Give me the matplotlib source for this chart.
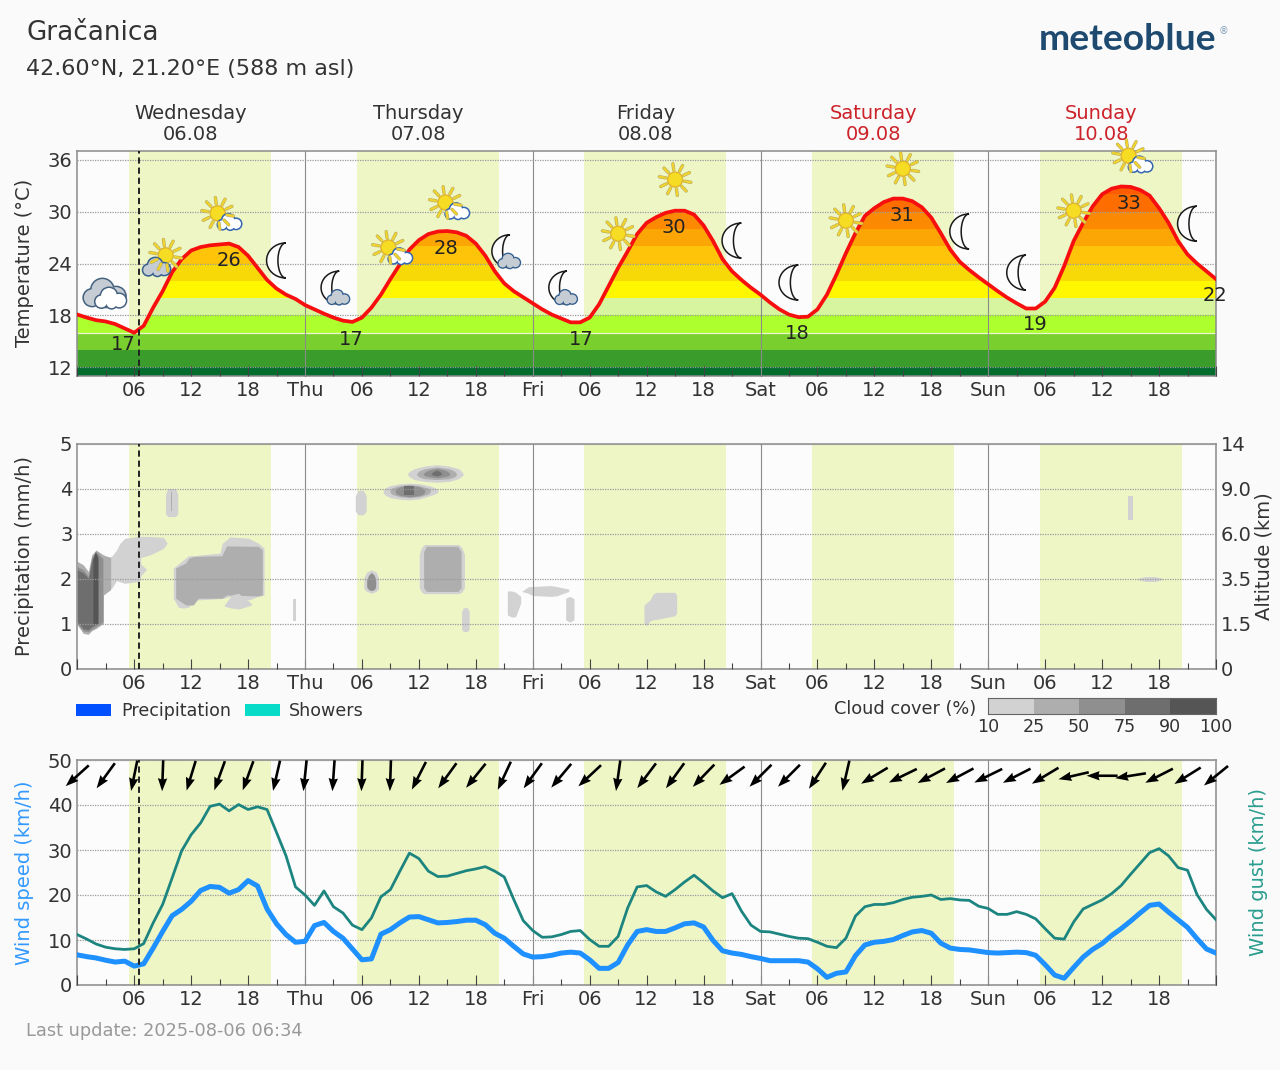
import numpy as np
import matplotlib
matplotlib.use('Agg')
import matplotlib.pyplot as plt
from matplotlib.patches import Circle, Polygon, Rectangle
from matplotlib.ticker import MultipleLocator

# hourly forecast, 0 = Wednesday 00:00
hours = np.arange(121)
temperature = [18.1, 17.75, 17.45, 17.3, 17.0, 16.5, 16.0, 16.8, 18.9, 20.8, 23.0, 24.5, 25.5, 25.9, 26.1, 26.2, 26.3, 25.9, 24.9, 23.5,
               22.1, 21.1, 20.4, 19.9, 19.2, 18.7, 18.2, 17.75, 17.4, 17.25, 17.75, 18.9, 20.4, 22.2, 23.9, 25.6, 26.7, 27.4, 27.7, 27.75,
               27.6, 27.2, 26.3, 24.9, 23.1, 21.7, 20.8, 20.1, 19.4, 18.7, 18.1, 17.65, 17.2, 17.2, 17.75, 19.3, 21.4, 23.5, 25.4, 27.4,
               28.7, 29.35, 29.85, 30.1, 30.1, 29.65, 28.4, 26.6, 24.5, 23.1, 22.1, 21.2, 20.4, 19.5, 18.7, 18.1, 17.8, 17.85, 18.7, 20.4,
               22.7, 25.2, 27.5, 29.5, 30.4, 31.1, 31.5, 31.5, 31.2, 30.5, 29.3, 27.5, 25.6, 24.2, 23.25, 22.4, 21.6, 20.8, 20.05, 19.4,
               18.8, 18.8, 19.6, 21.2, 23.7, 26.6, 28.7, 30.6, 32.0, 32.65, 32.9, 32.85, 32.5, 31.85, 30.4, 28.7, 26.6, 25.05, 24.0, 23.1, 22.2]
wind_speed = [6.7, 6.3, 6.0, 5.5, 5.1, 5.3, 4.2, 4.7, 8.2, 11.9, 15.4, 16.8, 18.6, 21.0, 21.9, 21.7, 20.4, 21.2, 23.2, 22.0,
              16.9, 13.6, 11.2, 9.5, 9.7, 13.2, 13.9, 11.9, 10.4, 8.0, 5.6, 5.8, 11.3, 12.3, 13.8, 15.1, 15.2, 14.5, 13.8, 13.9,
              14.1, 14.4, 14.4, 13.4, 11.5, 10.4, 8.6, 6.9, 6.2, 6.3, 6.6, 7.1, 7.3, 7.1, 5.6, 3.7, 3.7, 5.0, 8.9, 11.9,
              12.3, 11.9, 11.9, 12.7, 13.6, 13.8, 12.9, 9.9, 7.6, 7.1, 6.8, 6.3, 5.9, 5.4, 5.4, 5.4, 5.4, 5.1, 3.6, 1.7,
              2.6, 2.9, 6.5, 8.9, 9.5, 9.7, 10.1, 11.0, 11.8, 12.1, 11.5, 9.3, 8.2, 7.9, 7.8, 7.5, 7.2, 7.1, 7.2, 7.3,
              7.2, 6.6, 4.5, 2.2, 1.5, 3.9, 6.2, 7.9, 9.2, 11.0, 12.5, 14.2, 16.0, 17.7, 18.0, 16.2, 14.5, 12.8, 10.3, 8.0, 7.1]
wind_gust = [11.2, 10.2, 9.1, 8.4, 8.05, 7.9, 8.05, 9.2, 13.8, 17.9, 23.8, 29.8, 33.4, 36.0, 39.7, 40.2, 38.7, 40.1, 39.0, 39.6,
             39.0, 33.9, 28.7, 21.8, 20.0, 17.7, 20.9, 17.4, 16.0, 13.3, 12.3, 14.9, 19.6, 21.2, 25.3, 29.3, 28.1, 25.3, 24.1, 24.2,
             24.8, 25.4, 25.8, 26.3, 25.3, 24.0, 19.0, 14.3, 12.1, 10.6, 10.7, 11.2, 11.9, 12.1, 10.1, 8.6, 8.6, 10.8, 17.1, 21.8,
             22.1, 20.7, 19.7, 21.2, 22.9, 24.4, 22.7, 20.9, 19.4, 20.3, 16.4, 13.3, 11.9, 11.8, 11.3, 10.8, 10.4, 10.3, 9.5, 8.6,
             8.3, 10.4, 15.3, 17.4, 17.9, 17.9, 18.3, 19.0, 19.5, 19.7, 20.0, 19.0, 19.2, 18.9, 18.8, 17.5, 17.0, 15.7, 15.7, 16.3,
             15.7, 14.7, 12.5, 10.4, 10.2, 14.0, 16.9, 17.9, 18.9, 20.3, 22.1, 24.6, 27.0, 29.4, 30.3, 28.7, 26.1, 25.5, 20.1, 16.8, 14.5]

# wind direction every 3 hours, degrees the arrow leans west of straight down
arrow_hours = np.arange(0, 121, 3)
arrow_dirs = [48, 36, 11.5, 2, 17, 20, 20, 13, 6, 4, 2, 2, 27, 36, 39, 25, 36, 40, 47, 8, 37,
              36, 44, 54, 45, 45, 33, 13, 59, 64, 62, 62, 64, 63, 59, 77, 90, 81, 63, 58, 51]

sunrise = [5.45, 29.45, 53.45, 77.45, 101.45]
sunset = [20.4, 44.4, 68.4, 92.4, 116.4]
now_hour = 6.5

day_names = ['Wednesday', 'Thursday', 'Friday', 'Saturday', 'Sunday']
day_dates = ['06.08', '07.08', '08.08', '09.08', '10.08']
day_colors = ['#333333', '#333333', '#333333', '#cc2229', '#cc2229']
tick_names = ['', '06', '12', '18', 'Thu', '06', '12', '18', 'Fri', '06', '12', '18', 'Sat', '06', '12', '18', 'Sun', '06', '12', '18', '']

# temperature bands under the curve
band_edges = [11, 12, 14, 16, 18, 20, 22, 24, 26, 28, 30, 32, 34]
band_colors = ['#006d2c', '#3a9d2b', '#78cf2d', '#aeff2e', '#d6f59e', '#fff700', '#f7d908', '#fdc40a', '#fba605', '#fb8a02', '#fd6d00', '#ff5c00']

# daily extremes and where their labels sit on the temperature axis
label_hours = [4.9, 16, 28.85, 38.85, 53.1, 62.9, 75.9, 86.9, 101, 110.8, 119.9]
label_temps = [17, 26, 17, 28, 17, 30, 18, 31, 19, 33, 22]
label_at = [14.66, 24.35, 15.24, 25.73, 15.24, 28.16, 15.93, 29.54, 16.97, 30.93, 20.3]

icon_hours = [3, 9, 15, 21, 27, 33, 39, 45, 51, 57, 63, 69, 75, 81, 87, 93, 99, 105, 111, 117]
icon_temps = [20.3, 24.6, 29.8, 24.35, 21.1, 25.85, 31.05, 25.3, 21.1, 27.45, 33.7, 26.65, 21.8, 28.95, 34.95, 27.7, 22.95, 30.1, 36.45, 28.6]
icon_kinds = ['cloudy', 'sun_gray', 'sun_cloud', 'moon', 'moon_cloud', 'sun_cloud', 'sun_cloud', 'moon_cloud', 'moon_cloud', 'sun',
              'sun', 'moon', 'moon', 'sun', 'sun', 'moon', 'moon', 'sun', 'sun_cloud', 'moon']

cover_levels = ['10', '25', '50', '75', '90', '100']
cover_colors = ['#d2d2d2', '#aeaeae', '#8f8f8f', '#6e6e6e', '#555555']
altitudes = ['0', '1.5', '3.5', '6.0', '9.0', '14']

# cloud patches on the precipitation panel: hours, upper edge, lower edge
c1_h = [2.75, 3.63, 4.15, 4.5, 5.03, 6.44, 6.68]
c1_t = [2.46, 2.5, 2.64, 2.79, 2.9, 2.94, 2.94]
c1_b = [1.76, 1.79, 1.96, 1.93, 1.9, 1.94, 1.98]
c2_h = [6.44, 6.68, 7.66, 9.07, 9.49]
c2_t = [2.94, 2.94, 2.94, 2.92, 2.79]
c2_b = [2.46, 2.47, 2.53, 2.67, 2.79]
c3_h = [6.44, 6.79, 7.31]
c3_t = [2.39, 2.31, 2.21]
c3_b = [1.98, 2.09, 2.21]
d1_h = [0, 0.64, 1.17, 1.52, 1.98, 2.75, 2.76, 3.52]
d1_t = [2.385, 2.31, 2.16, 2.53, 2.64, 2.53, 2.53, 2.47]
d1_b = [0.98, 0.79, 0.77, 0.85, 0.9, 1.01, 1.64, 1.76]
d2_h = [0, 0.64, 1.17, 1.52, 1.98, 2.47, 2.7]
d2_t = [2.27, 2.2, 2.05, 2.46, 2.61, 2.5, 2.45]
d2_b = [1.01, 0.84, 0.83, 0.88, 0.94, 1.01, 1.05]
d3_h = [0, 0.64, 1.17, 1.52, 1.87, 2.22]
d3_t = [2.2, 2.13, 2.01, 2.39, 2.57, 2.46]
d3_b = [1.05, 0.89, 0.87, 0.94, 0.98, 1.01]
d4_h = [1.65, 1.9, 2.15]
d4_t = [2.45, 2.6, 2.5]
d4_b = [1.0, 1.0, 1.0]
e1_h = [10.12, 10.65, 11.18, 11.71, 12.58, 15.04, 15.29, 16.1, 18.03, 19.08, 19.68]
e1_t = [2.24, 2.33, 2.42, 2.51, 2.52, 2.57, 2.79, 2.93, 2.9, 2.79, 2.68]
e1_b = [1.57, 1.37, 1.35, 1.37, 1.53, 1.56, 1.56, 1.61, 1.53, 1.61, 1.64]
e2_h = [10.37, 11.42, 11.78, 12.23, 12.76, 15.22, 15.74, 19.08, 19.5]
e2_t = [2.24, 2.35, 2.46, 2.49, 2.5, 2.51, 2.73, 2.72, 2.64]
e2_b = [1.57, 1.42, 1.42, 1.42, 1.57, 1.57, 1.64, 1.62, 1.64]
e3_h = [15.5, 16.27, 16.97, 17.67, 18.38]
e3_t = [1.42, 1.64, 1.68, 1.57, 1.45]
e3_b = [1.39, 1.35, 1.33, 1.37, 1.42]
f1_h = [9.3, 9.55, 10.35, 10.6]
f1_t = [3.88, 4.0, 4.0, 3.88]
f1_b = [3.44, 3.38, 3.38, 3.44]
f2_h = [9.9, 10.0]
f2_t = [3.92, 3.92]
f2_b = [3.5, 3.5]
g1_h = [22.7, 23.1]
g1_t = [1.56, 1.56]
g1_b = [1.07, 1.07]
g2_h = [29.3, 29.6, 30.15, 30.45]
g2_t = [3.84, 3.96, 3.96, 3.84]
g2_b = [3.5, 3.42, 3.42, 3.5]
h1_h = [30.2, 30.5, 31.0, 31.5, 31.75]
h1_t = [2.02, 2.15, 2.2, 2.15, 2.02]
h1_b = [1.78, 1.72, 1.68, 1.72, 1.78]
h2_h = [30.5, 30.7, 31.0, 31.3, 31.45]
h2_t = [1.98, 2.08, 2.14, 2.08, 1.98]
h2_b = [1.82, 1.76, 1.74, 1.76, 1.82]
i1_h = [34.81, 35.0, 35.5, 36.6, 37.9, 39.2, 40.2, 40.5, 40.68]
i1_t = [4.33, 4.38, 4.44, 4.5, 4.53, 4.5, 4.44, 4.38, 4.33]
i1_b = [4.31, 4.26, 4.2, 4.16, 4.14, 4.16, 4.22, 4.27, 4.31]
i2_h = [35.76, 36.0, 36.6, 37.9, 39.2, 39.75, 39.97]
i2_t = [4.33, 4.39, 4.44, 4.48, 4.44, 4.39, 4.33]
i2_b = [4.31, 4.26, 4.22, 4.2, 4.22, 4.26, 4.31]
i3_h = [36.46, 36.7, 37.2, 37.9, 38.6, 39.05, 39.27]
i3_t = [4.33, 4.38, 4.42, 4.45, 4.42, 4.38, 4.33]
i3_b = [4.31, 4.28, 4.26, 4.24, 4.26, 4.28, 4.31]
i4_h = [37.3, 37.5, 37.9, 38.2, 38.4]
i4_t = [4.33, 4.38, 4.41, 4.38, 4.33]
i4_b = [4.32, 4.3, 4.28, 4.3, 4.32]
j1_h = [32.25, 32.5, 33.0, 34.1, 35.0, 36.0, 37.0, 37.7, 38.0]
j1_t = [3.98, 4.02, 4.07, 4.11, 4.12, 4.11, 4.07, 4.02, 3.98]
j1_b = [3.9, 3.85, 3.8, 3.76, 3.75, 3.77, 3.83, 3.88, 3.92]
j2_h = [32.95, 33.2, 34.0, 35.0, 36.0, 37.0, 37.2]
j2_t = [3.97, 4.02, 4.07, 4.09, 4.07, 4.01, 3.97]
j2_b = [3.92, 3.87, 3.82, 3.8, 3.82, 3.88, 3.93]
j3_h = [33.5, 33.7, 34.2, 35.0, 35.9, 36.4, 36.6]
j3_t = [3.97, 4.01, 4.05, 4.06, 4.05, 4.01, 3.97]
j3_b = [3.92, 3.87, 3.84, 3.82, 3.84, 3.87, 3.92]
j4_h = [34.45, 35.5]
j4_t = [4.05, 4.05]
j4_b = [3.85, 3.85]
k1_h = [36.04, 36.3, 36.6, 40.2, 40.5, 40.8]
k1_t = [2.55, 2.7, 2.76, 2.76, 2.7, 2.55]
k1_b = [1.8, 1.7, 1.67, 1.67, 1.7, 1.8]
k2_h = [36.5, 36.8, 40.1, 40.45]
k2_t = [2.6, 2.72, 2.72, 2.6]
k2_b = [1.8, 1.72, 1.72, 1.8]
l1_h = [40.5, 40.7, 41.1, 41.3]
l1_t = [1.28, 1.36, 1.36, 1.28]
l1_b = [0.88, 0.83, 0.83, 0.88]
m1_h = [45.32, 45.8, 46.2, 46.73]
m1_t = [1.73, 1.73, 1.7, 1.61]
m1_b = [1.2, 1.15, 1.16, 1.46]
m2_h = [46.83, 47.5, 48.0, 49.85, 50.5, 51.8]
m2_t = [1.72, 1.82, 1.83, 1.85, 1.83, 1.77]
m2_b = [1.72, 1.68, 1.63, 1.61, 1.62, 1.72]
m3_h = [51.47, 51.9, 52.35]
m3_t = [1.57, 1.61, 1.56]
m3_b = [1.09, 1.04, 1.09]
n1_h = [59.72, 60.0, 60.35, 60.7, 61.06, 62.99, 63.16]
n1_t = [1.42, 1.47, 1.53, 1.67, 1.7, 1.7, 1.64]
n1_b = [1.02, 0.96, 1.07, 1.09, 1.1, 1.18, 1.24]
o1_h = [110.68, 111.28]
o1_t = [3.83, 3.83]
o1_b = [3.31, 3.31]
o2_h = [111.6, 112.6, 113.6, 114.45]
o2_t = [2.0, 2.05, 2.05, 2.0]
o2_b = [1.99, 1.94, 1.94, 1.99]

W, H = 1280, 1070
text_color = '#333333'
line_grey = '#8a8a8a'

plt.rcParams['font.family'] = 'DejaVu Sans'
plt.rcParams['font.size'] = 14
plt.rcParams['text.color'] = text_color
plt.rcParams['axes.labelcolor'] = text_color

fig = plt.figure(figsize=(W / 100, H / 100), dpi=100, facecolor='#fafafa')


def panel(left, top, right, bottom):
    ax = fig.add_axes([left / W, 1 - bottom / H, (right - left) / W, (bottom - top) / H])
    ax.set_facecolor('#fcfcfc')
    for s in ax.spines.values():
        s.set_color(line_grey)
        s.set_linewidth(1.1)
    ax.set_xlim(0, 120)
    ax.xaxis.set_major_locator(MultipleLocator(6))
    ax.xaxis.set_minor_locator(MultipleLocator(3))
    ax.set_xticks(hours[::6])
    ax.set_xticklabels(tick_names)
    ax.tick_params(axis='x', which='major', direction='in', length=7.5, width=0.8, color='#444444', pad=3.5, labelcolor=text_color)
    ax.tick_params(axis='x', which='minor', direction='in', length=4.5, width=0.8, color='#444444')
    ax.tick_params(axis='y', length=0, pad=3.5, labelcolor=text_color)
    ax.grid(axis='y', color='#9a9a9a', linestyle=(0, (1, 1)), linewidth=0.9, zorder=3)
    ax.set_axisbelow(False)
    for a, b in zip(sunrise, sunset):
        ax.axvspan(a, b, color='#eff6c6', lw=0, zorder=0)
    for d in range(24, 120, 24):
        ax.axvline(d, color=line_grey, lw=0.8, zorder=3)
    return ax


ax1 = panel(77.25, 151, 1216, 376)
ax2 = panel(77.25, 443.5, 1216, 669)
ax3 = panel(77.25, 760, 1216, 985)

# temperature: colour bands clipped to the area below the curve
ax1.set_ylim(11, 37)
ax1.set_yticks(range(12, 37, 6))
under = Polygon(list(zip(hours, temperature)) + [(120, 11), (0, 11)], closed=True, transform=ax1.transData)
for lo, hi, col in zip(band_edges[:-1], band_edges[1:], band_colors):
    band = ax1.axhspan(lo, hi, color=col, lw=0, zorder=1)
    band.set_clip_path(under)
fringe = ax1.axhline(16, color='#eaf7d0', lw=0.9, zorder=2)
fringe.set_clip_path(under)
ax1.plot(hours, temperature, color='#f70f0f', lw=2.7, zorder=4)
ax1.axvline(now_hour, color='#222222', lw=1.4, ls=(0, (3.2, 2)), zorder=5)
for i, name in enumerate(day_names):
    ax1.annotate(name + '\n' + day_dates[i], (12 + 24 * i, 1), xycoords=ax1.get_xaxis_transform(), xytext=(-0.5, 5),
                 textcoords='offset points', ha='center', va='bottom', color=day_colors[i], linespacing=1.12)

# cloud cover by altitude
ax2.set_ylim(0, 5)
ax2.set_yticks(range(6))
ax2r = ax2.twinx()
ax2r.set_ylim(0, 5)
ax2r.set_yticks(range(6))
ax2r.set_yticklabels(altitudes)
ax2r.tick_params(axis='y', length=0, pad=3.5, labelcolor=text_color)
for s in ax2r.spines.values():
    s.set_visible(False)
cloud_patches = [
    (0, c1_h, c1_t, c1_b), (0, c2_h, c2_t, c2_b), (0, c3_h, c3_t, c3_b),
    (1, d1_h, d1_t, d1_b), (2, d2_h, d2_t, d2_b), (3, d3_h, d3_t, d3_b), (4, d4_h, d4_t, d4_b),
    (0, e1_h, e1_t, e1_b), (1, e2_h, e2_t, e2_b), (0, e3_h, e3_t, e3_b),
    (0, f1_h, f1_t, f1_b), (1, f2_h, f2_t, f2_b), (0, g1_h, g1_t, g1_b), (0, g2_h, g2_t, g2_b),
    (0, h1_h, h1_t, h1_b), (2, h2_h, h2_t, h2_b),
    (0, i1_h, i1_t, i1_b), (1, i2_h, i2_t, i2_b), (2, i3_h, i3_t, i3_b), (3, i4_h, i4_t, i4_b),
    (0, j1_h, j1_t, j1_b), (1, j2_h, j2_t, j2_b), (2, j3_h, j3_t, j3_b), (3, j4_h, j4_t, j4_b),
    (0, k1_h, k1_t, k1_b), (1, k2_h, k2_t, k2_b), (0, l1_h, l1_t, l1_b),
    (0, m1_h, m1_t, m1_b), (0, m2_h, m2_t, m2_b), (0, m3_h, m3_t, m3_b), (0, n1_h, n1_t, n1_b),
    (0, o1_h, o1_t, o1_b), (0, o2_h, o2_t, o2_b),
]
for level, h, top, bot in cloud_patches:
    ax2.fill_between(h, bot, top, color=cover_colors[level], lw=0, zorder=2)
ax2.axvline(now_hour, color='#222222', lw=1.4, ls=(0, (3.2, 2)), zorder=5)

# wind
ax3.set_ylim(0, 50)
ax3.set_yticks(range(0, 51, 10))
ax3.plot(hours, wind_gust, color='#1d8580', lw=2.0, zorder=4)
ax3.plot(hours, wind_speed, color='#1e90ff', lw=3.6, zorder=4)
ax3.axvline(now_hour, color='#222222', lw=1.4, ls=(0, (3.2, 2)), zorder=5)
rad = np.radians(arrow_dirs)
ax3.quiver(arrow_hours, np.full(len(arrow_hours), 46.5), -np.sin(rad), -np.cos(rad), angles='uv', pivot='mid',
           units='dots', width=2.6, scale_units='dots', scale=1 / 31, headwidth=3.6, headlength=5, headaxislength=4.6,
           color='black', clip_on=False, zorder=6)

# everything else sits on an overlay measured in pixels
ov = fig.add_axes([0, 0, 1, 1], facecolor='none')
ov.set_xlim(0, W)
ov.set_ylim(H, 0)
ov.axis('off')


def cloud(cx, cy, s, fill, edge, lw=1.2):
    lobes = [(-0.55, 0.18, 0.38), (-0.1, -0.15, 0.5), (0.5, 0.12, 0.42), (0.05, 0.28, 0.32)]
    for dx, dy, r in lobes:
        ov.add_patch(Circle((cx + dx * s, cy + dy * s), r * s, fc=fill, ec=edge, lw=lw))
    for dx, dy, r in lobes:
        ov.add_patch(Circle((cx + dx * s, cy + dy * s), r * s - 0.6, fc=fill, ec='none'))


def sun(cx, cy, r=7.5):
    for a in np.radians(np.arange(10, 370, 36)):
        xs = [cx + (r + 2) * np.cos(a), cx + (r + 8.5) * np.cos(a)]
        ys = [cy + (r + 2) * np.sin(a), cy + (r + 8.5) * np.sin(a)]
        ov.plot(xs, ys, color='#b8ad60', lw=2.4, solid_capstyle='round')
        ov.plot(xs, ys, color='#f2d42c', lw=1.5, solid_capstyle='round')
    ov.add_patch(Circle((cx, cy), r, fc='#f6dc22', ec='#e3b52a', lw=1))


def moon(cx, cy, h=17.5):
    t = np.linspace(-np.pi / 2, np.pi / 2, 30)
    outer = np.column_stack([cx + h * 0.53 - h * 1.1 * np.cos(t), cy + h * np.sin(t)])
    inner = np.column_stack([cx + h * 0.53 - h * 0.45 * np.cos(t), cy + h * np.sin(t)])
    ov.add_patch(Polygon(np.vstack([outer, inner[::-1]]), closed=True, fc='#fcfcfc', ec='#1a1a1a', lw=1.1))


for h, t, kind in zip(icon_hours, icon_temps, icon_kinds):
    # icons are placed through the temperature axes, then drawn in pixels
    dx, dy = ax1.transData.transform((h, t))
    cx, cy = dx, H - dy
    if kind == 'sun':
        sun(cx, cy)
    elif kind == 'sun_cloud':
        sun(cx - 2, cy)
        cloud(cx + 10, cy + 9, 13, 'white', '#3566b0', 1.4)
    elif kind == 'sun_gray':
        sun(cx + 3, cy - 3)
        cloud(cx - 6, cy + 9, 15, '#c6ccd3', '#35608f', 1.4)
    elif kind == 'moon':
        moon(cx, cy)
    elif kind == 'moon_cloud':
        moon(cx - 3, cy - 1, 16.5)
        cloud(cx + 5, cy + 9, 12, '#c6ccd3', '#35608f', 1.2)
    elif kind == 'cloudy':
        cloud(cx - 1, cy - 2, 23, '#c6ccd3', '#44627f', 1.4)
        cloud(cx + 5, cy + 3, 17, 'white', '#44627f', 1.4)

# extreme labels go above the icons
for h, t, y in zip(label_hours, label_temps, label_at):
    lx, ly = ax1.transData.transform((h, y))
    ov.text(lx, H - ly, str(t), ha='center', va='center', fontsize=14, color='#222222')

ov.text(26, 33, 'Gračanica', fontsize=18.9, va='center', ha='left')
ov.text(26, 68.5, '42.60°N, 21.20°E (588 m asl)', fontsize=16, va='center', ha='left')
ov.text(1039, 40, 'meteoblue', fontsize=26.8, fontweight='bold', family='Lato', color='#1f4a70', va='center', ha='left')
ov.text(1223, 31, '®', fontsize=7, color='#7f9cb5', va='center', ha='center')
ov.text(26, 1031, 'Last update: 2025-08-06 06:34', fontsize=12.8, color='#999999', va='center', ha='left')

ov.text(25, 263, 'Temperature (°C)', fontsize=14, rotation=90, va='center', ha='center')
ov.text(25, 556, 'Precipitation (mm/h)', fontsize=14, rotation=90, va='center', ha='center')
ov.text(1264, 556, 'Altitude (km)', fontsize=14, rotation=90, va='center', ha='center')
ov.text(25, 873, 'Wind speed (km/h)', fontsize=14, rotation=90, va='center', ha='center', color='#3399ff')
ov.text(1259, 872, 'Wind gust (km/h)', fontsize=14, rotation=90, va='center', ha='center', color='#2a9d8f')

# legend row
ov.add_patch(Rectangle((76, 704), 35, 12, fc='#0050ff', ec='none'))
ov.text(121, 711, 'Precipitation', fontsize=12.6, va='center', ha='left')
ov.add_patch(Rectangle((245, 704), 35, 12, fc='#08dcc8', ec='none'))
ov.text(289, 711, 'Showers', fontsize=12.6, va='center', ha='left')
ov.text(976, 709, 'Cloud cover (%)', fontsize=12.8, va='center', ha='right')

# cloud cover scale
bar = fig.add_axes([988 / W, 1 - 714 / H, 228 / W, 16 / H])
bar.barh(0, np.ones(5), left=np.arange(5), height=1, color=cover_colors, align='edge')
bar.set_xlim(0, 5)
bar.set_ylim(0, 1)
bar.set_yticks([])
bar.set_xticks(np.arange(6))
bar.set_xticklabels(cover_levels, fontsize=12.6, color=text_color)
bar.tick_params(axis='x', length=0, pad=3)
for s in bar.spines.values():
    s.set_color('#666666')
    s.set_linewidth(0.8)

plt.savefig('out.png', dpi=100, facecolor=fig.get_facecolor())
plt.close()
